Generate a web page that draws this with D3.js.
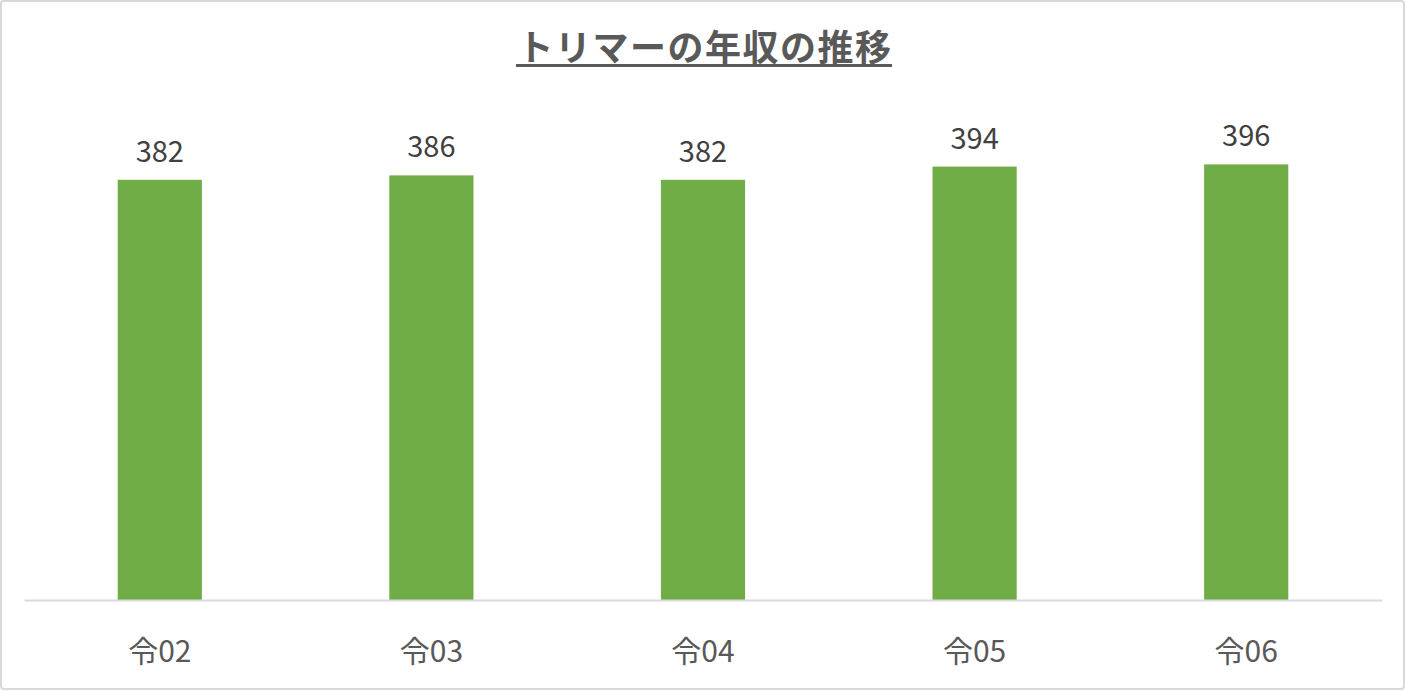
<!DOCTYPE html>
<html><head><meta charset="utf-8">
<script src="https://cdn.jsdelivr.net/npm/d3@7"></script>
<style>html,body{margin:0;padding:0;background:#fff;}svg{display:block;}</style>
</head><body>
<script>
const categories = ["令02","令03","令04","令05","令06"];
const values = [382, 386, 382, 394, 396];
const title = "トリマーの年収の推移";

const W = 1406, H = 691;
const font = "'Noto Sans CJK JP','Noto Sans',sans-serif";
const svg = d3.select("body").append("svg").attr("width", W).attr("height", H);

svg.append("rect").attr("x",1).attr("y",1).attr("width",W-3).attr("height",H-3)
  .attr("rx",3).attr("fill","#fff").attr("stroke","#d9d9d9").attr("stroke-width",2);

const x = d3.scaleBand().domain(categories).range([24, 1382]).paddingInner(0.69).paddingOuter(0.345);
const y = d3.scaleLinear().domain([0, 450]).range([600, 105]);

svg.selectAll("rect.bar").data(values).enter().append("rect").attr("class","bar")
  .attr("x",(d,i)=>x(categories[i])).attr("width",x.bandwidth())
  .attr("y",d=>y(d)).attr("height",d=>y(0)-y(d)).attr("fill","#70ad47");

const axis = d3.axisBottom(x).tickSize(0).tickPadding(0);
const g = svg.append("g").attr("transform",`translate(0,${y(0)})`).call(axis);
g.select(".domain").attr("stroke","#d9d9d9").attr("stroke-width",2);
g.selectAll("text").attr("font-family",font).attr("font-size",30).attr("fill","#595959")
  .attr("dy",null).attr("y",62);

svg.selectAll("text.lbl").data(values).enter().append("text").attr("class","lbl")
  .attr("x",(d,i)=>x(categories[i])+x.bandwidth()/2).attr("y",d=>y(d)-18)
  .attr("text-anchor","middle").attr("font-family",font).attr("font-size",29).attr("fill","#404040")
  .text(d=>d);

const t = svg.append("text").attr("x",W/2+2).attr("y",61).attr("text-anchor","middle")
  .attr("font-family",font).attr("font-size",36).attr("font-weight","bold").attr("fill","#595959")
  .attr("letter-spacing",1.5)
  .text(title);
svg.append("rect").attr("x",516).attr("y",64).attr("width",376).attr("height",3).attr("fill","#595959");
</script>
</body></html>
